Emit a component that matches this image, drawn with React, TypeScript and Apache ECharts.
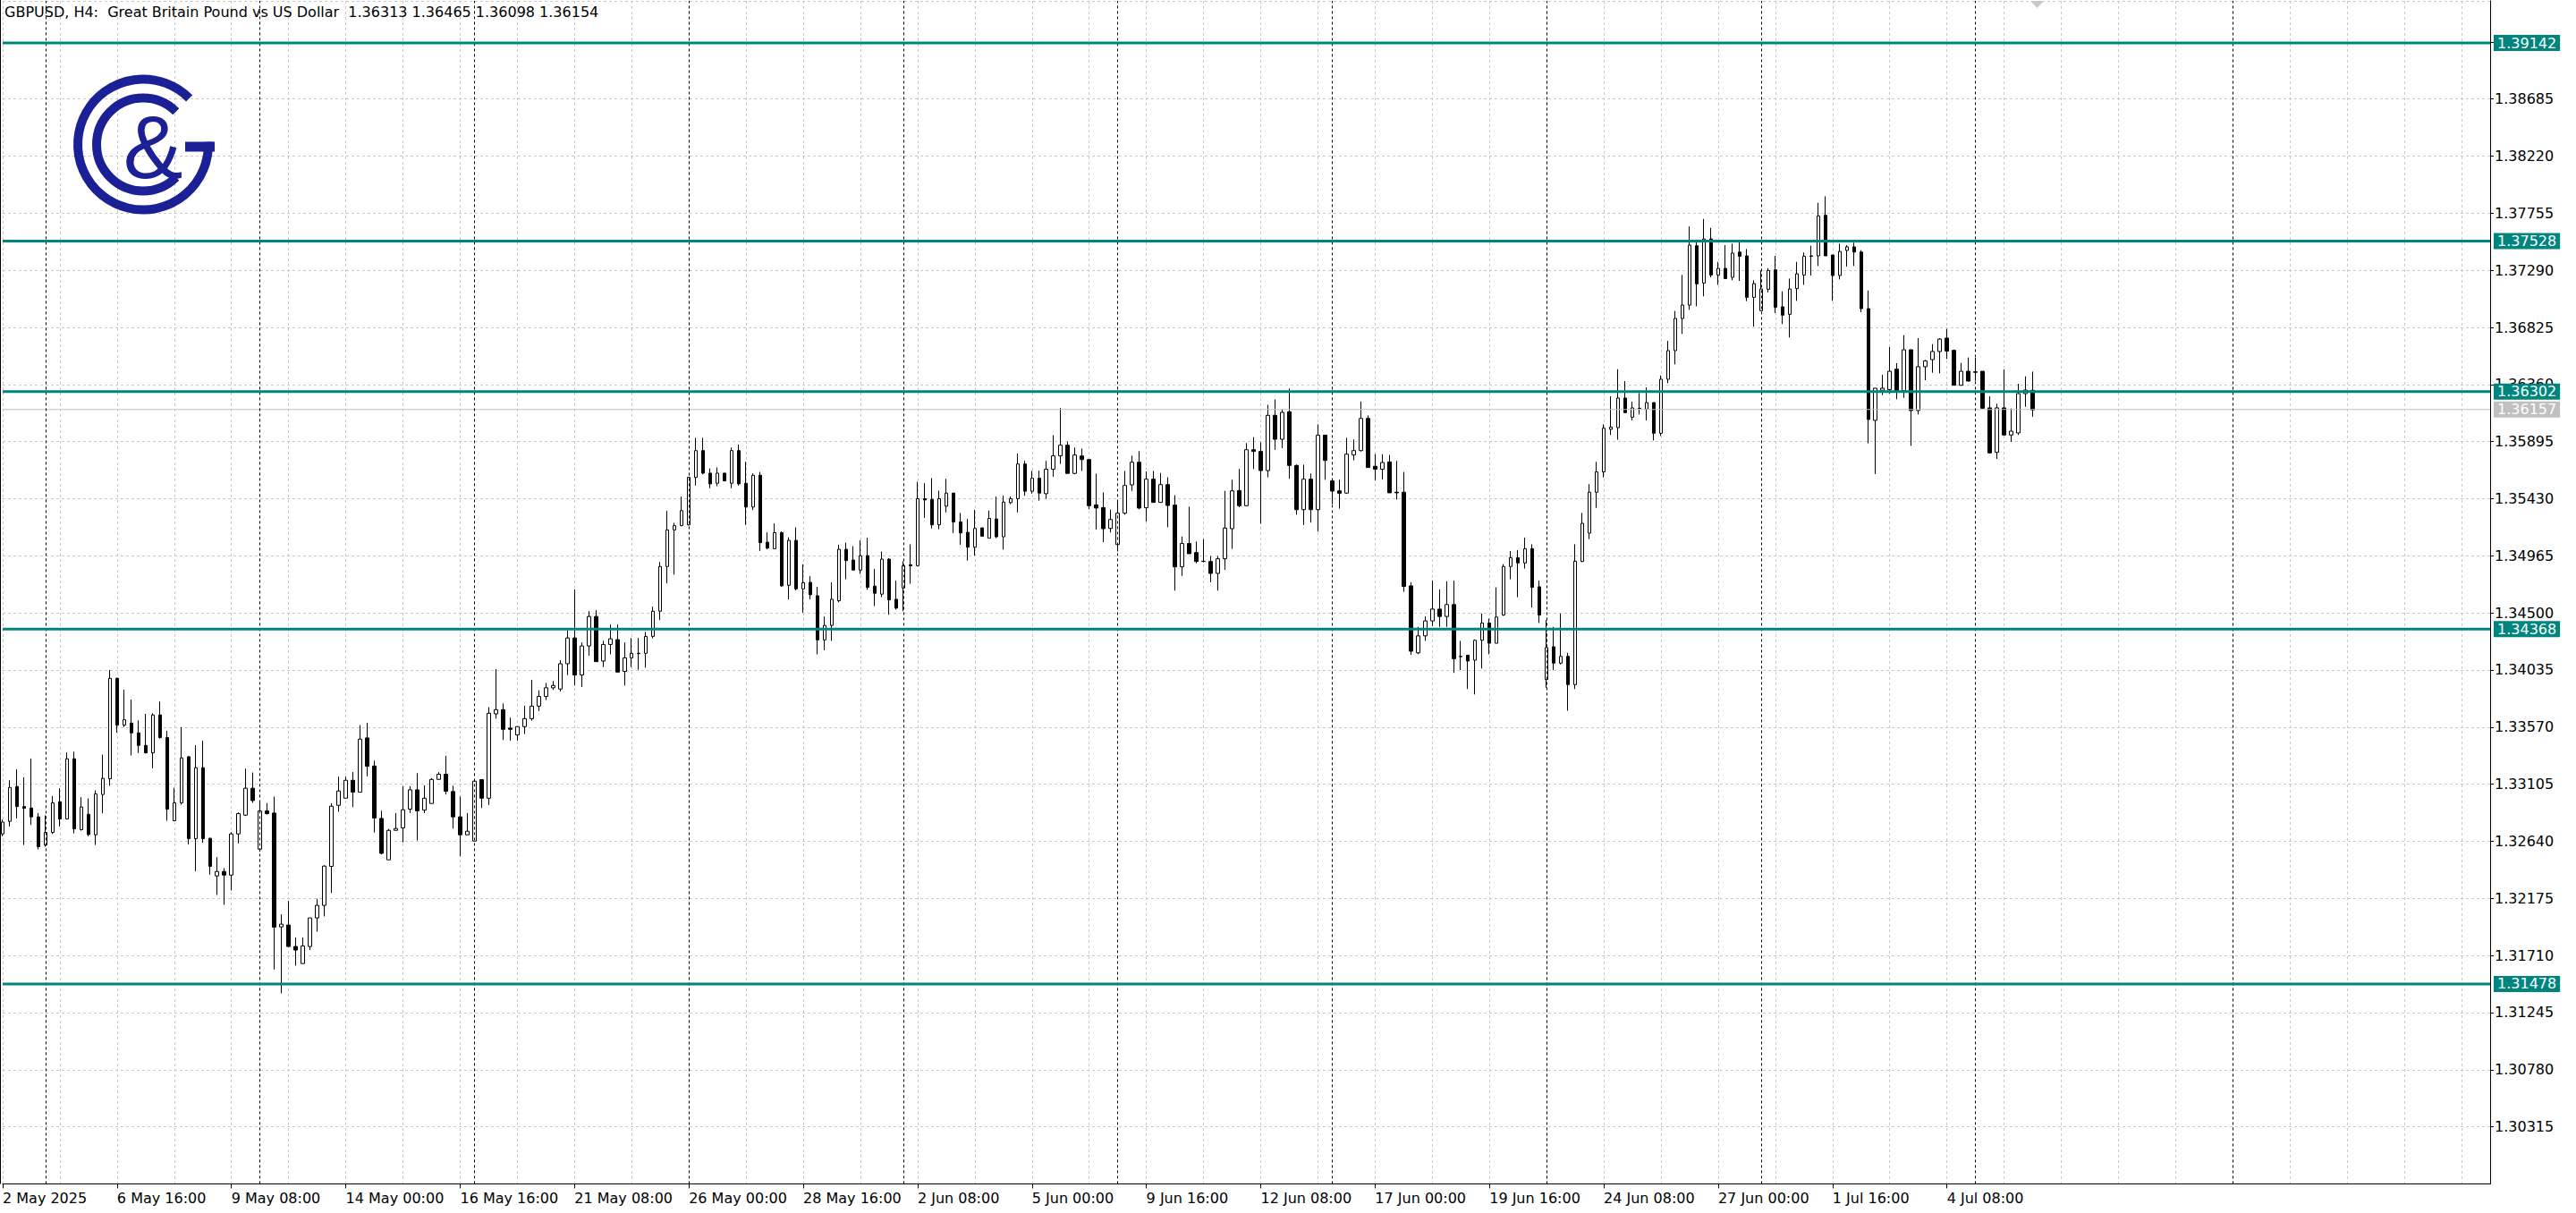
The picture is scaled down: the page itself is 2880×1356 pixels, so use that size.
import React, { useEffect, useRef } from "react";
import * as echarts from "echarts";

// ---- H4 candles (bar 0 = 2 May 2025 00:00) ----
const opens = [
  1.32700, 1.32802, 1.33086, 1.32923, 1.32911, 1.32839, 1.32610, 1.32712, 1.32962, 1.32822,
  1.33312, 1.32734, 1.32860, 1.32693, 1.33021, 1.33149, 1.33967, 1.33586, 1.33603, 1.33523,
  1.33421, 1.33360, 1.33669, 1.33484, 1.32807, 1.32953, 1.33329, 1.32661, 1.33239, 1.32664,
  1.32358, 1.32394, 1.32365, 1.32700, 1.32853, 1.33072, 1.32576, 1.32887, 1.32870, 1.31943,
  1.31958, 1.31783, 1.31644, 1.31783, 1.32016, 1.32118, 1.32436, 1.32933, 1.32991, 1.33137,
  1.33040, 1.33482, 1.33253, 1.32826, 1.32489, 1.32729, 1.32749, 1.32902, 1.33059, 1.32894,
  1.32948, 1.33144, 1.33186, 1.33045, 1.32839, 1.32693, 1.32642, 1.33142, 1.32991, 1.33678,
  1.33712, 1.33562, 1.33506, 1.33574, 1.33639, 1.33741, 1.33820, 1.33890, 1.33880, 1.34086,
  1.34296, 1.33994, 1.34231, 1.34471, 1.34108, 1.34243, 1.34282, 1.34023, 1.34134, 1.34171,
  1.34171, 1.34309, 1.34514, 1.34878, 1.35176, 1.35212, 1.35217, 1.35604, 1.35822, 1.35638,
  1.35556, 1.35638, 1.35556, 1.35822, 1.35556, 1.35362, 1.35621, 1.35076, 1.35023, 1.35154,
  1.34725, 1.35091, 1.34696, 1.34749, 1.34640, 1.34280, 1.34398, 1.34599, 1.35018, 1.34931,
  1.34849, 1.34967, 1.34718, 1.34653, 1.34938, 1.34611, 1.34703, 1.34892, 1.34885, 1.35430,
  1.35425, 1.35217, 1.35369, 1.35476, 1.35241, 1.35156, 1.35035, 1.35193, 1.35108, 1.35265,
  1.35120, 1.35398, 1.35430, 1.35713, 1.35491, 1.35597, 1.35471, 1.35670, 1.35779, 1.35866,
  1.35636, 1.35778, 1.35749, 1.35380, 1.35358, 1.35188, 1.35057, 1.35312, 1.35543, 1.35727,
  1.35356, 1.35589, 1.35400, 1.35545, 1.35378, 1.34875, 1.35065, 1.34992, 1.34919, 1.34919,
  1.34822, 1.34941, 1.35186, 1.35497, 1.35373, 1.35829, 1.35815, 1.35659, 1.36109, 1.35914,
  1.36138, 1.35701, 1.35341, 1.35589, 1.35341, 1.35948, 1.35575, 1.35494, 1.35476, 1.35786,
  1.35822, 1.36084, 1.35694, 1.35670, 1.35730, 1.35483, 1.35483, 1.34720, 1.34175, 1.34313,
  1.34435, 1.34531, 1.34471, 1.34568, 1.34146, 1.34156, 1.34115, 1.34277, 1.34418, 1.34253,
  1.34483, 1.34878, 1.34950, 1.34907, 1.35023, 1.34713, 1.33957, 1.34224, 1.34091, 1.34146,
  1.33916, 1.34919, 1.35150, 1.35483, 1.35648, 1.35995, 1.36009, 1.36250, 1.36094, 1.36167,
  1.36160, 1.36213, 1.35963, 1.36403, 1.36636, 1.36898, 1.37007, 1.37490, 1.37187, 1.37546,
  1.37252, 1.37306, 1.37233, 1.37439, 1.37408, 1.37070, 1.36961, 1.37136, 1.37294, 1.36993,
  1.36932, 1.37141, 1.37252, 1.37408, 1.37408, 1.37738, 1.37415, 1.37248, 1.37452, 1.37481,
  1.37439, 1.36978, 1.36068, 1.36313, 1.36318, 1.36485, 1.36310, 1.36643, 1.36148, 1.36505,
  1.36563, 1.36629, 1.36738, 1.36638, 1.36354, 1.36468, 1.36463, 1.36468, 1.36170, 1.35808,
  1.36170, 1.35949, 1.35966, 1.36286, 1.36313,
];
const closes = [
  1.32797, 1.33079, 1.32923, 1.32909, 1.32839, 1.32596, 1.32712, 1.32953, 1.32822, 1.33312,
  1.32741, 1.32919, 1.32695, 1.33025, 1.33152, 1.33967, 1.33586, 1.33630, 1.33523, 1.33421,
  1.33360, 1.33669, 1.33484, 1.32902, 1.32953, 1.33319, 1.32661, 1.33239, 1.32661, 1.32436,
  1.32394, 1.32365, 1.32700, 1.32865, 1.33072, 1.32972, 1.32887, 1.32865, 1.31941, 1.31965,
  1.31783, 1.31754, 1.31788, 1.32016, 1.32118, 1.32438, 1.32926, 1.33050, 1.33137, 1.33040,
  1.33472, 1.33251, 1.32829, 1.32542, 1.32729, 1.32744, 1.32897, 1.33059, 1.32887, 1.32991,
  1.33144, 1.33186, 1.33047, 1.32839, 1.32693, 1.32722, 1.33130, 1.32991, 1.33683, 1.33712,
  1.33552, 1.33552, 1.33574, 1.33639, 1.33741, 1.33820, 1.33890, 1.33909, 1.34086, 1.34296,
  1.33994, 1.34231, 1.34471, 1.34103, 1.34243, 1.34289, 1.34018, 1.34134, 1.34171, 1.34168,
  1.34309, 1.34514, 1.34878, 1.35176, 1.35210, 1.35333, 1.35604, 1.35822, 1.35638, 1.35551,
  1.35638, 1.35575, 1.35822, 1.35551, 1.35362, 1.35621, 1.35072, 1.35028, 1.35154, 1.34720,
  1.35091, 1.34696, 1.34745, 1.34648, 1.34280, 1.34398, 1.34611, 1.35018, 1.34926, 1.34849,
  1.34965, 1.34708, 1.34660, 1.34938, 1.34606, 1.34539, 1.34885, 1.34883, 1.35430, 1.35420,
  1.35217, 1.35430, 1.35476, 1.35241, 1.35151, 1.35035, 1.35188, 1.35125, 1.35270, 1.35120,
  1.35403, 1.35430, 1.35713, 1.35491, 1.35597, 1.35476, 1.35670, 1.35779, 1.35866, 1.35636,
  1.35786, 1.35749, 1.35373, 1.35354, 1.35186, 1.35261, 1.35312, 1.35538, 1.35727, 1.35354,
  1.35589, 1.35400, 1.35545, 1.35375, 1.34875, 1.35065, 1.34982, 1.34919, 1.34921, 1.34822,
  1.34941, 1.35191, 1.35494, 1.35373, 1.35829, 1.35815, 1.35659, 1.36109, 1.35914, 1.36133,
  1.35701, 1.35341, 1.35589, 1.35341, 1.35948, 1.35742, 1.35492, 1.35475, 1.35793, 1.35822,
  1.36084, 1.35684, 1.35670, 1.35725, 1.35478, 1.35478, 1.34716, 1.34188, 1.34313, 1.34435,
  1.34531, 1.34471, 1.34568, 1.34127, 1.34144, 1.34108, 1.34277, 1.34418, 1.34253, 1.34466,
  1.34878, 1.34950, 1.34907, 1.35023, 1.34708, 1.34483, 1.34217, 1.34091, 1.34146, 1.33916,
  1.34921, 1.35229, 1.35483, 1.35648, 1.36004, 1.36014, 1.36250, 1.36131, 1.36170, 1.36165,
  1.36213, 1.35963, 1.36403, 1.36636, 1.36898, 1.37007, 1.37495, 1.37180, 1.37546, 1.37252,
  1.37306, 1.37223, 1.37430, 1.37405, 1.37070, 1.37182, 1.37138, 1.37289, 1.36990, 1.36925,
  1.37138, 1.37262, 1.37405, 1.37405, 1.37733, 1.37408, 1.37248, 1.37444, 1.37481, 1.37439,
  1.36978, 1.36075, 1.36330, 1.36330, 1.36468, 1.36310, 1.36643, 1.36148, 1.36505, 1.36553,
  1.36629, 1.36730, 1.36633, 1.36354, 1.36468, 1.36388, 1.36460, 1.36167, 1.35803, 1.36170,
  1.35949, 1.35980, 1.36286, 1.36315, 1.36154,
];
const lows = [
  1.32681, 1.32761, 1.32826, 1.32610, 1.32773, 1.32574, 1.32596, 1.32700, 1.32761, 1.32817,
  1.32705, 1.32727, 1.32681, 1.32610, 1.32868, 1.33093, 1.33525, 1.33571, 1.33339, 1.33358,
  1.33355, 1.33234, 1.33477, 1.32807, 1.32807, 1.32938, 1.32615, 1.32397, 1.32627, 1.32368,
  1.32203, 1.32123, 1.32239, 1.32623, 1.32846, 1.32953, 1.32555, 1.32858, 1.31596, 1.31402,
  1.31780, 1.31627, 1.31644, 1.31754, 1.31904, 1.32028, 1.32220, 1.32880, 1.32991, 1.32919,
  1.33040, 1.33169, 1.32712, 1.32533, 1.32489, 1.32729, 1.32632, 1.32870, 1.32647, 1.32870,
  1.32948, 1.33144, 1.33021, 1.32744, 1.32518, 1.32693, 1.32642, 1.32911, 1.32936, 1.33639,
  1.33465, 1.33460, 1.33460, 1.33513, 1.33622, 1.33700, 1.33790, 1.33873, 1.33860, 1.33994,
  1.33909, 1.33897, 1.34151, 1.34100, 1.34059, 1.34163, 1.34018, 1.33909, 1.34059, 1.34037,
  1.34054, 1.34292, 1.34442, 1.34740, 1.34812, 1.35205, 1.35212, 1.35537, 1.35629, 1.35515,
  1.35532, 1.35572, 1.35515, 1.35537, 1.35217, 1.35338, 1.35006, 1.35018, 1.35023, 1.34713,
  1.34611, 1.34684, 1.34502, 1.34611, 1.34163, 1.34195, 1.34272, 1.34587, 1.34774, 1.34849,
  1.34817, 1.34689, 1.34556, 1.34628, 1.34485, 1.34527, 1.34514, 1.34737, 1.34878, 1.35273,
  1.35188, 1.35181, 1.35319, 1.35151, 1.35055, 1.34926, 1.34967, 1.35125, 1.35108, 1.35108,
  1.35016, 1.35386, 1.35319, 1.35454, 1.35471, 1.35415, 1.35430, 1.35609, 1.35713, 1.35636,
  1.35630, 1.35657, 1.35344, 1.35179, 1.35077, 1.35155, 1.35000, 1.35300, 1.35494, 1.35344,
  1.35244, 1.35400, 1.35400, 1.35198, 1.34681, 1.34802, 1.34982, 1.34904, 1.34912, 1.34749,
  1.34681, 1.34851, 1.35021, 1.35361, 1.35373, 1.35672, 1.35227, 1.35604, 1.35827, 1.35842,
  1.35592, 1.35300, 1.35215, 1.35235, 1.35162, 1.35584, 1.35385, 1.35349, 1.35470, 1.35742,
  1.35815, 1.35684, 1.35580, 1.35587, 1.35478, 1.35423, 1.34672, 1.34158, 1.34163, 1.34272,
  1.34393, 1.34386, 1.34386, 1.34011, 1.34035, 1.33880, 1.33836, 1.34047, 1.34163, 1.34253,
  1.34476, 1.34774, 1.34628, 1.34861, 1.34544, 1.34418, 1.33890, 1.34035, 1.34080, 1.33703,
  1.33880, 1.34914, 1.35101, 1.35355, 1.35604, 1.35949, 1.35910, 1.36131, 1.36068, 1.36116,
  1.36068, 1.35905, 1.35941, 1.36371, 1.36524, 1.36772, 1.36968, 1.36997, 1.37078, 1.37233,
  1.37172, 1.37223, 1.37209, 1.37204, 1.37039, 1.36832, 1.36961, 1.37111, 1.36942, 1.36852,
  1.36743, 1.37041, 1.37172, 1.37248, 1.37325, 1.37408, 1.37041, 1.37216, 1.37320, 1.37325,
  1.36949, 1.35881, 1.35631, 1.36274, 1.36286, 1.36240, 1.36252, 1.35861, 1.36116, 1.36395,
  1.36456, 1.36451, 1.36568, 1.36354, 1.36350, 1.36385, 1.36390, 1.36165, 1.35800, 1.35754,
  1.35949, 1.35893, 1.35949, 1.36179, 1.36098,
];
const highs = [
  1.32817, 1.33137, 1.33227, 1.33161, 1.33314, 1.32870, 1.32851, 1.33008, 1.33072, 1.33363,
  1.33370, 1.32999, 1.32989, 1.33055, 1.33346, 1.34035, 1.33972, 1.33875, 1.33795, 1.33625,
  1.33678, 1.33683, 1.33778, 1.33540, 1.33076, 1.33569, 1.33334, 1.33423, 1.33460, 1.32669,
  1.32511, 1.32421, 1.32715, 1.32875, 1.33232, 1.33200, 1.32957, 1.32950, 1.33004, 1.32045,
  1.32154, 1.31856, 1.31856, 1.32016, 1.32171, 1.32445, 1.32950, 1.33166, 1.33166, 1.33205,
  1.33586, 1.33605, 1.33297, 1.32889, 1.32741, 1.32870, 1.33088, 1.33088, 1.33195, 1.33096,
  1.33154, 1.33203, 1.33336, 1.33093, 1.33004, 1.32870, 1.33135, 1.33142, 1.33732, 1.34042,
  1.33763, 1.33647, 1.33574, 1.33744, 1.33955, 1.33870, 1.33930, 1.33945, 1.34115, 1.34357,
  1.34691, 1.34260, 1.34514, 1.34522, 1.34272, 1.34405, 1.34405, 1.34260, 1.34296, 1.34296,
  1.34345, 1.34551, 1.34914, 1.35331, 1.35234, 1.35447, 1.35609, 1.35926, 1.35926, 1.35677,
  1.35684, 1.35640, 1.35847, 1.35871, 1.35730, 1.35636, 1.35648, 1.35156, 1.35229, 1.35164,
  1.35115, 1.35197, 1.34895, 1.34800, 1.34713, 1.34471, 1.34749, 1.35055, 1.35072, 1.35043,
  1.35091, 1.35113, 1.34858, 1.34999, 1.34946, 1.34764, 1.34921, 1.35059, 1.35568, 1.35556,
  1.35597, 1.35495, 1.35592, 1.35476, 1.35314, 1.35265, 1.35338, 1.35193, 1.35333, 1.35447,
  1.35454, 1.35449, 1.35798, 1.35738, 1.35658, 1.35658, 1.35738, 1.35948, 1.36169, 1.35895,
  1.35846, 1.35839, 1.35749, 1.35635, 1.35482, 1.35341, 1.35402, 1.35657, 1.35781, 1.35817,
  1.35652, 1.35657, 1.35640, 1.35604, 1.35458, 1.35123, 1.35366, 1.35082, 1.35101, 1.34963,
  1.34963, 1.35494, 1.35584, 1.35672, 1.35883, 1.35931, 1.35890, 1.36194, 1.36240, 1.36157,
  1.36327, 1.35708, 1.35708, 1.35635, 1.36036, 1.35948, 1.35584, 1.35584, 1.35926, 1.35912,
  1.36222, 1.36108, 1.35793, 1.35793, 1.35786, 1.35738, 1.35648, 1.34749, 1.34386, 1.34471,
  1.34764, 1.34691, 1.34757, 1.34764, 1.34272, 1.34156, 1.34284, 1.34495, 1.34454, 1.34708,
  1.34897, 1.35004, 1.35011, 1.35113, 1.35059, 1.34764, 1.34442, 1.34386, 1.34495, 1.34175,
  1.35059, 1.35314, 1.35549, 1.35730, 1.36035, 1.36264, 1.36485, 1.36388, 1.36221, 1.36291,
  1.36337, 1.36213, 1.36434, 1.36716, 1.36959, 1.37252, 1.37648, 1.37536, 1.37709, 1.37636,
  1.37359, 1.37495, 1.37507, 1.37527, 1.37464, 1.37209, 1.37289, 1.37308, 1.37408, 1.37119,
  1.37223, 1.37359, 1.37435, 1.37490, 1.37840, 1.37893, 1.37415, 1.37507, 1.37495, 1.37515,
  1.37454, 1.37126, 1.36330, 1.36439, 1.36665, 1.36534, 1.36762, 1.36645, 1.36738, 1.36560,
  1.36689, 1.36738, 1.36813, 1.36645, 1.36536, 1.36580, 1.36578, 1.36468, 1.36264, 1.36204,
  1.36483, 1.36165, 1.36366, 1.36427, 1.36465,
];

const levelPrices = [1.39142, 1.37528, 1.36302, 1.34368, 1.31478];
const bidPrice = 1.36157;
const separatorBars = [6, 36, 66, 96, 126, 156, 186, 216, 246, 276, 312];
const xTickLabels = [
  "2 May 2025", "6 May 16:00", "9 May 08:00", "14 May 00:00", "16 May 16:00", "21 May 08:00",
  "26 May 00:00", "28 May 16:00", "2 Jun 08:00", "5 Jun 00:00", "9 Jun 16:00", "12 Jun 08:00",
  "17 Jun 00:00", "19 Jun 16:00", "24 Jun 08:00", "27 Jun 00:00", "1 Jul 16:00", "4 Jul 08:00",
];
const headerText = "GBPUSD, H4:  Great Britain Pound vs US Dollar  1.36313 1.36465 1.36098 1.36154";
const totalSlots = 349;
const labelEvery = 16;
const gridEvery = 8;
const priceMin = 1.2985;
const priceMax = 1.39485;
const priceStep = 0.00465;

const FONT = "DejaVu Sans";
const TEAL = "#00857e";
const BID_GRAY = "#c0c0c0";
const GRID_GRAY = "#c8c8c8";
const LOGO_BLUE = "#1b2096";

export default function App() {
  const ref = useRef<HTMLDivElement>(null);

  useEffect(() => {
    if (!ref.current) return;
    const chart = echarts.init(ref.current, null, { renderer: "svg" });
    const categories = Array.from({ length: totalSlots }, (_, i) => String(i));
    const candles = opens.map((o, i) => [o, closes[i], lows[i], highs[i]]);
    const isLabelIdx = (i: number) => i % labelEvery === 0 && i / labelEvery < xTickLabels.length;

    const levelSeries = (p: number, color: string, width: number, z: number) => ({
      type: "line",
      data: [
        [0, p],
        [totalSlots - 1, p],
      ],
      symbol: "none",
      silent: true,
      z,
      lineStyle: { color, width, type: "solid" },
      emphasis: { disabled: true },
      endLabel: {
        show: true,
        distance: 4,
        formatter: p.toFixed(5),
        color: "#ffffff",
        backgroundColor: color,
        padding: [1, 4, 1, 4],
        fontFamily: FONT,
        fontSize: 16,
      },
    });

    chart.setOption({
      animation: false,
      backgroundColor: "#ffffff",
      grid: { left: 1.5, top: 0.92, width: 2782.5, height: 1322.5, containLabel: false },
      xAxis: {
        type: "category",
        data: categories,
        boundaryGap: false,
        axisLine: { show: true, lineStyle: { color: "#000", width: 1 } },
        axisTick: { show: true, length: 5, interval: (i: number) => isLabelIdx(i), lineStyle: { color: "#000" } },
        axisLabel: {
          show: true,
          interval: (i: number) => isLabelIdx(i),
          formatter: (_v: string, i: number) => xTickLabels[i / labelEvery] ?? "",
          align: "left",
          margin: 8,
          fontFamily: FONT,
          fontSize: 16,
          color: "#000",
        },
        splitLine: {
          show: true,
          interval: (i: number) => i % gridEvery === 0,
          lineStyle: { color: GRID_GRAY, type: [3, 3], width: 1 },
        },
      },
      yAxis: {
        type: "value",
        position: "right",
        min: priceMin,
        max: priceMax,
        interval: priceStep,
        axisLine: { show: true, lineStyle: { color: "#000", width: 1 } },
        axisTick: { show: true, length: 4, lineStyle: { color: "#000" } },
        axisLabel: {
          formatter: (v: number) => v.toFixed(5),
          showMinLabel: false,
          showMaxLabel: false,
          margin: 5,
          fontFamily: FONT,
          fontSize: 16,
          color: "#000",
        },
        splitLine: { show: true, lineStyle: { color: GRID_GRAY, type: [3, 3], width: 1 } },
      },
      series: [
        {
          type: "line",
          data: [],
          z: 1,
          silent: true,
          markLine: {
            silent: true,
            symbol: ["none", "none"],
            label: { show: false },
            lineStyle: { color: "#000", type: [3, 3], width: 1 },
            emphasis: { disabled: true },
            data: separatorBars.map((b) => ({ xAxis: String(b) })),
          },
        },
        {
          type: "candlestick",
          data: candles,
          z: 3,
          barWidth: 4,
          itemStyle: {
            color: "#ffffff",
            color0: "#000000",
            borderColor: "#000000",
            borderColor0: "#000000",
            borderColorDoji: "#000000",
            borderWidth: 1,
          },
          emphasis: { disabled: true },
        },
        levelSeries(bidPrice, BID_GRAY, 1, 4),
        ...levelPrices.map((p) => levelSeries(p, TEAL, 3, 5)),
      ],
      graphic: [
        {
          type: "line",
          z: 60,
          shape: { x1: 0.5, y1: 0, x2: 0.5, y2: 1323.5 },
          style: { stroke: "#000", lineWidth: 1 },
        },
        {
          type: "text",
          z: 60,
          x: 5,
          y: 13,
          style: {
            text: headerText,
            fontSize: 16,
            fontFamily: FONT,
            fill: "#000",
            align: "left",
            verticalAlign: "middle",
          },
        },
        {
          type: "polygon",
          z: 60,
          shape: { points: [[2270, 1], [2285, 1], [2277.5, 9]] },
          style: { fill: "#c8c8c8" },
        },
        {
          type: "group",
          z: 60,
          children: [
            {
              type: "arc",
              z: 60,
              shape: { cx: 160, cy: 161.5, r: 73, startAngle: -Math.PI / 4, endAngle: -0.04, clockwise: false },
              style: { stroke: LOGO_BLUE, lineWidth: 10, fill: null },
            },
            {
              type: "rect",
              z: 60,
              shape: { x: 207, y: 158.5, width: 33, height: 11 },
              style: { fill: LOGO_BLUE },
            },
            {
              type: "arc",
              z: 60,
              shape: { cx: 160, cy: 161.5, r: 52, startAngle: -Math.PI / 4, endAngle: Math.PI / 4, clockwise: false },
              style: { stroke: LOGO_BLUE, lineWidth: 10, fill: null },
            },
            {
              type: "text",
              z: 60,
              x: 171,
              y: 164,
              style: {
                text: "&",
                fontSize: 100,
                fontFamily: "Liberation Sans",
                fill: LOGO_BLUE,
                align: "center",
                verticalAlign: "middle",
              },
            },
          ],
        },
      ],
    });

    return () => chart.dispose();
  }, []);

  return (
    <div
      ref={ref}
      style={{ position: "fixed", left: 0, top: 0, width: 2880, height: 1356, background: "#ffffff" }}
    />
  );
}
